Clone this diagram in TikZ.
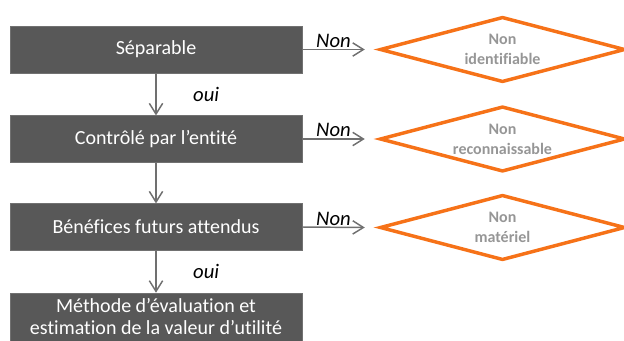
\documentclass[tikz,border=0pt]{standalone}
\usepackage{fontspec}
\setmainfont{Carlito}[Ligatures=NoCommon]
\usetikzlibrary{shapes.geometric,arrows.meta}
\definecolor{boxgray}{RGB}{88,88,88}
\definecolor{linegray}{RGB}{112,112,112}
\definecolor{textgray}{RGB}{150,150,150}
\definecolor{orangeline}{RGB}{246,114,24}
\begin{document}
\begin{tikzpicture}[x=0.75pt, y=-0.75pt]
        % Define styles for shapes
        \tikzset{
            critere/.style={fill=boxgray, draw=boxgray!85!white, text=white, minimum width=219pt, minimum height=35pt, align=center, font=\fontsize{15}{16.5}\selectfont},
            refus/.style={draw=orangeline, line width=2.6pt, diamond, aspect=3.8, minimum width=184pt, minimum height=49pt, inner sep=-2pt, text=textgray, align=center, font=\fontsize{12}{15}\selectfont\bfseries},
            fleche/.style={draw=linegray, line width=1.1pt, -{Straight Barb[length=8pt, width=10pt, line width=1.1pt]}},
            reponse/.style={font=\fontsize{15.5}{17}\selectfont\itshape, text=black}
        }
        \useasboundingbox (0,0) rectangle (624,340);
        \clip (0,0) rectangle (624,340);
        % Criteria boxes on the left
        \node[critere] (sep) at (156, 49.5) {Séparable};
        \node[critere] (ctrl) at (156, 139) {Contrôlé par l’entité};
        \node[critere] (benef) at (156, 227) {Bénéfices futurs attendus};
        \node[critere, minimum height=36pt] (methode) at (156, 317) {Méthode d’évaluation et\\estimation de la valeur d’utilité};
        % Rejection diamonds on the right
        \node[refus] (nonid) at (502.5, 49.5) {Non\\identifiable};
        \node[refus] (nonrec) at (502.5, 139) {Non\\reconnaissable};
        \node[refus] (nonmat) at (502.5, 227.5) {Non\\matériel};
        % Draw arrows
        \draw[fleche] (sep) -- (ctrl) node[reponse, midway, right=24pt] {oui};
        \draw[fleche] (ctrl) -- (benef);
        \draw[fleche] (benef) -- (methode) node[reponse, midway, right=24pt] {oui};
        \draw[fleche] (sep.east) -- ([xshift=-10pt]nonid.west) node[reponse, midway, above, inner sep=1pt] {Non};
        \draw[fleche] (ctrl.east) -- ([xshift=-10pt]nonrec.west) node[reponse, midway, above, inner sep=1pt] {Non};
        \draw[fleche] (benef.east) -- ([xshift=-10pt]nonmat.west) node[reponse, midway, above, inner sep=1pt] {Non};
    \end{tikzpicture}
\end{document}
